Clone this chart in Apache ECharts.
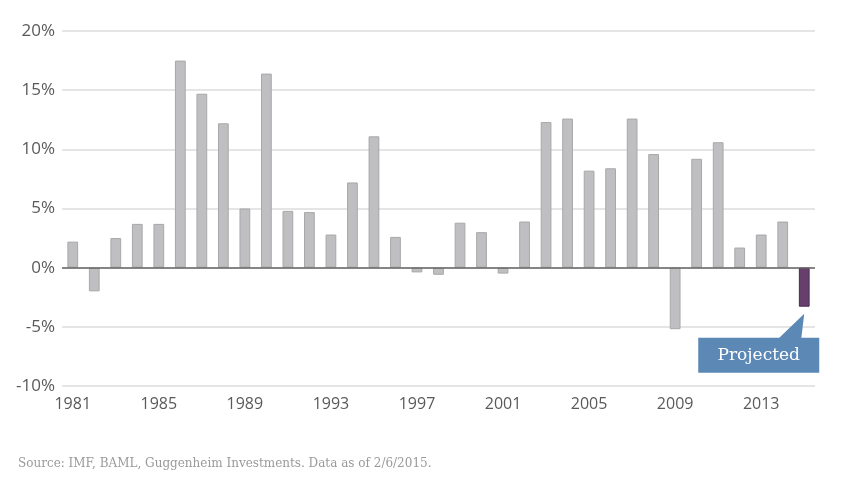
<!DOCTYPE html>
<html><head><meta charset="utf-8">
<script src="https://cdn.jsdelivr.net/npm/echarts@6/dist/echarts.min.js"></script>
<style>html,body{margin:0;padding:0;background:#fff}#c{width:859px;height:478px}</style>
</head><body><div id="c"></div>
<script>
var years = [];
for (var y = 1981; y <= 2015; y++) years.push(String(y));
var values = [2.2,-2.0,2.5,3.7,3.7,17.5,14.7,12.2,5.0,16.4,4.8,4.7,2.8,7.2,11.1,2.6,-0.4,-0.6,3.8,3.0,-0.5,3.9,12.3,12.6,8.2,8.4,12.6,9.6,-5.2,9.2,10.6,1.7,2.8,3.9,-3.3];
var projectedIndex = 34;
var yTicks = {min:-10, max:20, interval:5};
var calloutText = 'Projected';
var sourceText = 'Source: IMF, BAML, Guggenheim Investments. Data as of 2/6/2015.';

var chart = echarts.init(document.getElementById('c'));
var data = values.map(function(v,i){
  if (i === projectedIndex) return {value:v, itemStyle:{color:'#673f6c', borderColor:'#4c2a52'}};
  return v;
});
var sansFont = "'Open Sans', sans-serif";
chart.setOption({
  animation:false,
  grid:{left:62, right:44, top:31, bottom:92},
  xAxis:{type:'category', data:years,
    axisLine:{show:false, onZero:false}, axisTick:{show:false},
    axisLabel:{interval:3, color:'#5a5a5a', fontSize:16, fontFamily:sansFont, margin:10}
  },
  yAxis:{type:'value', min:yTicks.min, max:yTicks.max, interval:yTicks.interval,
    axisLine:{show:false}, axisTick:{show:false},
    splitLine:{lineStyle:{color:'#dcdcdc', width:1.5}},
    axisLabel:{formatter:'{value}%', color:'#5a5a5a', fontSize:17, fontFamily:sansFont, margin:7}
  },
  series:[{type:'bar', data:data, barWidth:'50%',
    itemStyle:{color:'#bfbfc1', borderColor:'#a8a8aa', borderWidth:1},
    markLine:{silent:true, symbol:'none', label:{show:false},
      lineStyle:{color:'#666', width:1.5, type:'solid'}, data:[{yAxis:0}]}
  }]
});
var p = chart.convertToPixel({seriesIndex:0}, [projectedIndex, values[projectedIndex]]);
var tipX = p[0], tipY = p[1] + 7;
var boxTop = tipY + 24, boxH = 35, boxRight = p[0] + 15, boxW = 121;
chart.setOption({graphic:[
  {type:'text', left:18, top:458, style:{text:sourceText, fill:'#9a9a9a', font:"12px 'DejaVu Serif', serif"}},
  {type:'polygon', shape:{points:[[tipX,tipY],[tipX-26,boxTop+1],[tipX-3,boxTop+1]]}, style:{fill:'#5b88b5'}},
  {type:'rect', shape:{x:boxRight-boxW, y:boxTop, width:boxW, height:boxH}, style:{fill:'#5b88b5'}},
  {type:'text', x:boxRight-boxW/2, y:boxTop+boxH/2, style:{text:calloutText, fill:'#fff', font:"17px 'DejaVu Serif', serif", align:'center', verticalAlign:'middle'}}
]});
</script></body></html>
